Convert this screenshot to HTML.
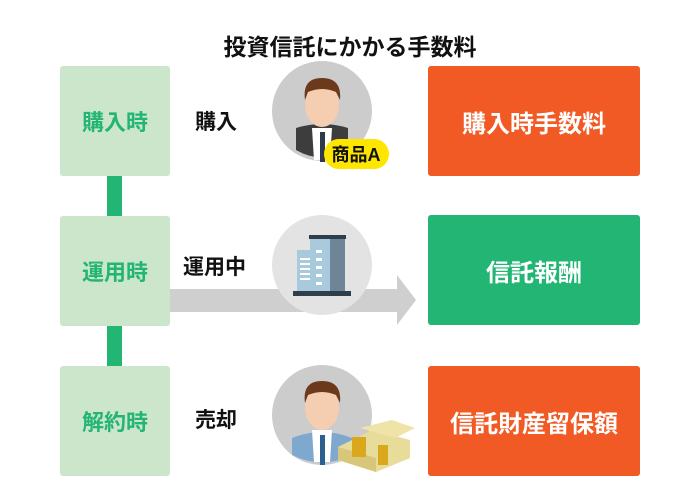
<!DOCTYPE html>
<html><head><meta charset="utf-8"><style>
body{margin:0;width:700px;height:487px;background:#fff;position:relative;overflow:hidden;font-family:"Liberation Sans","Noto Sans CJK JP",sans-serif}
.a{position:absolute}
.lb{position:absolute;left:60px;width:110px;height:110px;background:#cce6cc;border-radius:3px;color:#22b573;font-size:22px;font-weight:bold;display:flex;align-items:center;justify-content:center}
.rb{position:absolute;left:428px;width:212px;height:110px;border-radius:3px;color:#fff;font-size:24px;font-weight:bold;display:flex;align-items:center;justify-content:center}
.t{position:absolute;font-size:21px;color:#111;font-weight:bold}
</style></head><body>
<div class="a" style="left:0;width:700px;top:28px;text-align:center;font-size:23px;font-weight:bold;color:#111">投資信託にかかる手数料</div>
<div class="lb" style="top:66px">購入時</div>
<div class="lb" style="top:216px">運用時</div>
<div class="lb" style="top:366px">解約時</div>
<div class="a" style="left:107px;top:176px;width:15px;height:40px;background:#22b573"></div>
<div class="a" style="left:107px;top:326px;width:15px;height:40px;background:#22b573"></div>
<div class="t" style="left:195px;top:106px">購入</div>
<div class="t" style="left:183px;top:251px">運用中</div>
<div class="t" style="left:195px;top:404px">売却</div>
<svg class="a" style="left:0;top:0" width="700" height="487">
<polygon points="170,289 397,289 397,275 416,300 397,325 397,312 170,312" fill="#cfcfcf"/>
<!-- circle 1 -->
<circle cx="322" cy="111" r="50" fill="#cccccc"/>
<path d="M296,150 L296,128 Q322,120 348,128 L348,150 Q322,165 296,150Z" fill="#3d3d3d"/>
<path d="M312,128 L332,128 L330,160 L314,160Z" fill="#fff"/>
<rect x="320" y="132" width="5" height="30" fill="#2e3a4a"/>
<ellipse cx="322" cy="105" rx="17" ry="22" fill="#f5cdb0"/>
<path d="M305,100 Q302,78 322,78 Q342,78 340,100 L336,92 Q322,86 308,92Z" fill="#6b3a1d"/>
<rect x="324" y="139" width="65" height="30" rx="15" fill="#ffe600"/>
<text x="356" y="161" text-anchor="middle" font-size="18" font-weight="bold" fill="#111" font-family="Liberation Sans, Noto Sans CJK JP, sans-serif">商品A</text>
<!-- circle 2 -->
<circle cx="322" cy="265" r="50" fill="#e3e3e3"/>
<rect x="297" y="250" width="30" height="42" fill="#a9c9dc"/>
<rect x="310" y="238" width="35" height="54" fill="#a9c9dc"/>
<rect x="330" y="238" width="15" height="54" fill="#6d8596"/>
<rect x="309" y="235" width="37" height="4" fill="#2e3e4c"/>
<rect x="293" y="291" width="58" height="5" fill="#2e3e4c"/>
<g fill="#fff"><rect x="300" y="258" width="10" height="2"/><rect x="300" y="263" width="10" height="2"/><rect x="300" y="268" width="10" height="2"/><rect x="300" y="273" width="10" height="2"/><rect x="300" y="278" width="10" height="2"/></g>
<g fill="#fff"><rect x="316" y="250" width="6" height="3"/><rect x="316" y="258" width="6" height="3"/><rect x="316" y="266" width="6" height="3"/><rect x="316" y="274" width="6" height="3"/><rect x="316" y="282" width="6" height="3"/></g>
<!-- circle 3 -->
<circle cx="322" cy="415" r="50" fill="#cccccc"/>
<path d="M292,455 L292,438 Q322,426 352,438 L352,455 Q322,470 292,455Z" fill="#7fa8cf"/>
<path d="M312,430 L332,430 L330,462 L314,462Z" fill="#fff"/>
<rect x="320" y="435" width="5" height="30" fill="#2c5f90"/>
<ellipse cx="322" cy="408" rx="17" ry="22" fill="#f5cdb0"/>
<path d="M305,403 Q302,381 322,381 Q342,381 340,403 L336,395 Q322,389 308,395Z" fill="#6b3a1d"/>
<polygon points="338,447 372,430 410,440 410,458 376,472 338,460" fill="#e8dc9a"/>
<polygon points="338,447 376,458 376,472 338,460" fill="#d8c77a"/>
<polygon points="360,428 392,420 415,428 395,438" fill="#efe3a8"/>
<rect x="352" y="437" width="14" height="20" fill="#d9a81c"/>
<rect x="378" y="445" width="10" height="20" fill="#d9a81c"/>
</svg>
<div class="rb" style="top:66px;background:#f15a24">購入時手数料</div>
<div class="rb" style="top:215px;background:#22b573">信託報酬</div>
<div class="rb" style="top:366px;background:#f15a24">信託財産留保額</div>
</body></html>
